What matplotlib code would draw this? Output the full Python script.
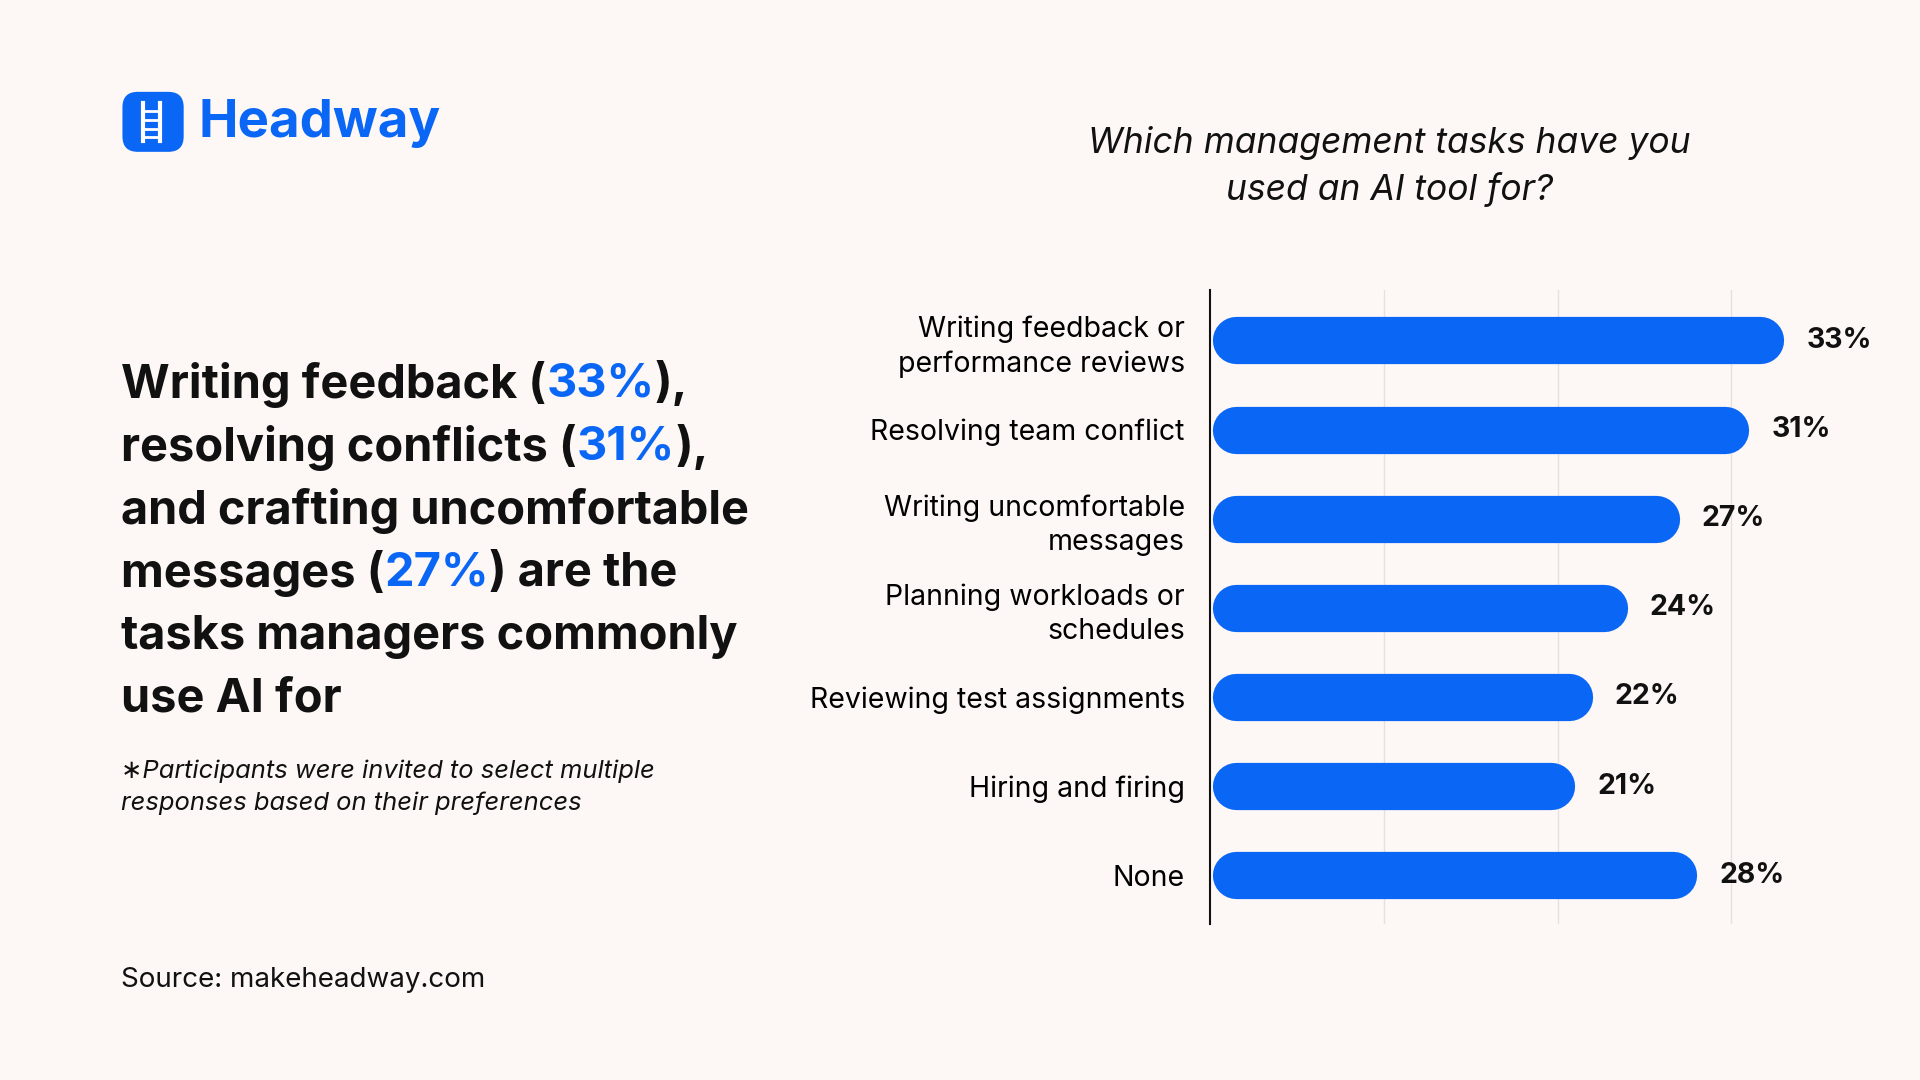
import matplotlib
matplotlib.use("Agg")
import matplotlib.pyplot as plt
from matplotlib.patches import FancyBboxPatch

categories = ["Writing feedback or\nperformance reviews", "Resolving team conflict",
              "Writing uncomfortable\nmessages", "Planning workloads or\nschedules",
              "Reviewing test assignments", "Hiring and firing", "None"]
values = [33, 31, 27, 24, 22, 21, 28]
value_labels = ["33%", "31%", "27%", "24%", "22%", "21%", "28%"]

BLUE = "#0A66F5"
BG = "#FDF8F6"
W, H = 1568, 882  # reference design units

plt.rcParams['font.family'] = ['Inter', 'DejaVu Sans']
fig = plt.figure(figsize=(19.2, 10.8), dpi=100, facecolor=BG)

def fx(x): return x / W
def fy(y): return 1 - y / H

# Chart axes
ax = fig.add_axes([fx(988), fy(755), fx(1556) - fx(988), fy(237) - fy(755)])
ax.set_facecolor(BG)
ax.set_xlim(0, 40)
n = len(values)
ax.set_ylim(6.552, -0.563)
for g in [10, 20, 30]:
    ax.axvline(g, color="#E6E1DF", lw=1, zorder=0)
for s in ["top", "right", "bottom"]:
    ax.spines[s].set_visible(False)
ax.spines["left"].set_linewidth(1.5)
ax.spines["left"].set_color("#111111")
ax.set_xticks([])
ax.set_yticks(range(n))
ax.set_yticklabels(categories, fontsize=20.5, ha="right", linespacing=1.35)
ax.tick_params(axis="y", length=0, pad=18)
r = 1.35
for i, v in enumerate(values):
    ax.plot([r + 0.15, v - r], [i, i], color=BLUE, lw=34, solid_capstyle="round", zorder=2)
    ax.text(v + 1.3, i, value_labels[i], va="center", ha="left", fontsize=20.5,
            fontweight="bold", color="#111111")

# Title
fig.text(fx(1135), fy(136), "Which management tasks have you\nused an AI tool for?",
         ha="center", va="center", fontsize=25.5, style="italic", color="#111111",
         linespacing=1.45)

# Logo
sq = FancyBboxPatch((fx(100), fy(124)), fx(50), fy(75) - fy(124),
                    boxstyle="round,pad=0,rounding_size=0.008", transform=fig.transFigure,
                    facecolor=BLUE, edgecolor="none", mutation_aspect=1.78)
fig.patches.append(sq)
for xx in [117, 131]:
    fig.lines.append(plt.Line2D([fx(xx), fx(xx)], [fy(84), fy(115)], color="white", lw=3,
                                transform=fig.transFigure))
for yy in [91, 98, 105, 112]:
    fig.lines.append(plt.Line2D([fx(118), fx(130)], [fy(yy), fy(yy)], color="white", lw=2,
                                transform=fig.transFigure))
fig.text(fx(162), fy(101), "Headway", fontsize=38, fontweight="bold", color=BLUE, va="center")

# Headline with colored segments
lines = [
    [("Writing feedback (", "#111111"), ("33%", BLUE), ("),", "#111111")],
    [("resolving conflicts (", "#111111"), ("31%", BLUE), ("),", "#111111")],
    [("and crafting uncomfortable", "#111111")],
    [("messages (", "#111111"), ("27%", BLUE), (") are the", "#111111")],
    [("tasks managers commonly", "#111111")],
    [("use AI for", "#111111")],
]
fig.canvas.draw()
rend = fig.canvas.get_renderer()
y0 = 314
for li, segs in enumerate(lines):
    x = fx(99)
    for txt, col in segs:
        t = fig.text(x, fy(y0 + li * 51.5), txt, fontsize=33.8, fontweight="bold", color=col,
                     va="center", ha="left")
        bb = t.get_window_extent(renderer=rend)
        x += bb.width / fig.bbox.width

fig.text(fx(99), fy(643), "∗Participants were invited to select multiple\nresponses based on their preferences",
         fontsize=18.4, style="italic", color="#111111", va="center", linespacing=1.45)
fig.text(fx(99), fy(800), "Source: makeheadway.com", fontsize=20, color="#111111", va="center")

fig.savefig("out.png", dpi=100, facecolor=BG)
